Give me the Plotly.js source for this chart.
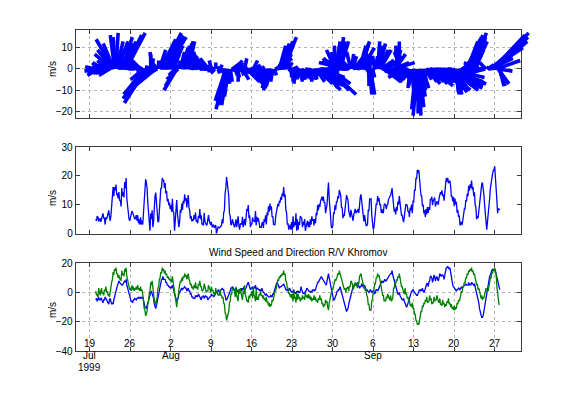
<!DOCTYPE html>
<html><head><meta charset="utf-8">
<script src="https://cdn.plot.ly/plotly-3.0.1.min.js"></script>
<style>html,body{margin:0;padding:0;background:#fff}#chart{width:576px;height:395px}</style>
</head><body><div id="chart"></div>
<script>
// ---- data (3-hourly samples starting 1999-07-20 00:00 UTC, one group per day) ----
const startTime = Date.UTC(1999, 6, 20, 0, 0);
const stepHours = 3;
// east component u (m/s), blue
const uEast = [
  -5,-4,-6,-5,-3,-5,-5,-4,  -4,-6,-7,-5,-5,-3,-4,-5,  -6,-6,-8,-5,-4,-6,-8,-7,
  -8,-5,-2,-1,1,3,5,7,  8,7,6,5,5,5,6,6,  8,7,9,5,3,1,-1,-4,
  -5,-6,-6,-7,-5,-5,-4,-5,  -5,-4,-4,-3,-4,-3,-4,-3,  -4,-3,-6,-7,-10,-10,-11,-9,
  -7,-4,-3,0,0,1,-1,-1,  -4,-8,-11,-11,-9,-6,-3,0,  3,6,7,9,9,11,9,9,
  9,7,7,5,5,4,4,3,  4,3,5,3,2,-1,-3,-5,  -6,-5,-4,-1,0,2,2,3,
  2,3,3,4,3,3,1,2,  3,1,1,-1,-1,-3,-3,-4,  -4,-4,-2,-3,-2,-3,-1,-2,
  -3,-3,-5,-3,-3,-2,-4,-3,  -2,-3,-3,-5,-4,-4,-3,-3,  -1,-2,-2,-3,-2,-2,0,0,
  1,1,2,0,1,2,2,3,  2,2,-1,-2,-5,-5,-4,-3,  -2,0,1,3,3,4,3,3,
  2,1,3,1,1,0,2,1,  1,3,1,3,2,4,1,2,  4,6,6,7,5,5,2,3,
  3,4,2,4,3,5,2,3,  3,2,2,1,2,1,3,1,  0,-1,-1,-2,-1,-2,-2,-3,
  -3,-3,-2,-3,-3,-1,-1,1,  3,6,6,7,5,5,3,4,  4,4,5,5,6,4,4,2,
  2,1,2,1,3,1,1,0,  1,0,2,0,0,-1,1,0,  1,0,0,1,4,2,1,-1,
  0,-1,1,1,3,2,2,1,  1,0,1,0,2,1,2,1,  2,4,4,7,7,9,9,10,
  11,10,9,8,7,6,5,5,  8,10,13,10,7,4,2,0,  -2,-5,-5,-4,-2,-1,1,1,
  2,2,4,2,1,0,-2,-4,  -6,-9,-11,-13,-12,-11,-8,-6,  -4,-2,1,2,4,4,6,5,
  5,5,7,5,4,3,4,4,  6,5,4,3,5,3,2,2,  1,1,0,1,2,1,0,1,
  1,1,-1,1,2,2,1,2,  3,4,5,6,8,7,7,8,  9,8,8,9,10,11,12,12,
  13,13,15,12,10,7,5,3,  2,0,-1,-1,0,-2,-3,-5,  -5,-5,-4,-6,-8,-10,-10,-9,
  -7,-5,-3,-1,-1,1,1,2,  1,0,0,-2,-2,-2,0,1,  2,1,2,1,3,1,0,1,
  3,6,6,6,4,7,8,11,  11,10,7,9,12,11,8,10,  11,9,8,10,13,12,11,12,
  12,11,9,12,15,17,17,18,  17,16,17,13,10,7,5,4,  3,2,2,1,2,2,3,2,
  2,3,4,3,4,4,5,5,  6,5,5,5,7,5,6,5,  7,6,6,5,6,4,2,0,
  -1,-5,-7,-11,-13,-16,-17,-17,  -16,-13,-10,-5,-3,1,3,6,  8,11,12,15,15,16,15,16,
  16,15,13,11,7,5,3,2
];
// north component v (m/s), green
const vNorth = [
  1,-2,-1,-3,3,0,-2,1,  3,-1,0,-2,2,1,4,0,  1,-2,-1,-3,2,2,7,9,
  14,12,16,15,17,13,13,10,  12,9,10,8,15,12,13,11,  16,14,17,11,9,5,5,2,
  3,1,5,2,4,1,3,2,  4,2,5,2,3,1,4,1,  2,-1,-5,-11,-12,-16,-14,-13,
  -8,-6,-1,1,7,5,8,2,  1,-5,-7,-9,-5,-3,3,4,  9,10,14,13,17,15,16,13,
  15,12,13,10,11,9,10,8,  9,7,11,7,7,0,-3,-8,  -10,-5,-3,2,4,8,7,10,
  8,11,10,13,11,12,9,12,  13,9,8,5,6,3,4,2,  5,3,7,3,4,2,6,5,
  8,4,4,1,2,2,6,3,  3,0,1,1,5,2,2,0,  4,1,2,-1,0,-2,3,0,
  1,-2,-1,-2,2,-2,-2,-4,  -3,-7,-8,-14,-15,-19,-17,-17,  -13,-7,-6,-1,-1,3,2,2,
  1,-3,4,-2,-4,-6,2,-1,  3,-2,-3,-5,1,-1,5,-2,  -3,-6,-5,-7,-2,-4,-1,-2,
  1,-4,4,-2,-3,-6,2,-5,  -3,-5,-1,-2,1,-2,-2,-4,  -2,-5,-4,-6,-3,-7,-6,-9,
  -7,-10,-8,-9,-5,-6,-3,-3,  1,1,5,5,9,8,11,10,  12,11,13,12,15,12,13,8,
  7,3,3,-1,0,-3,-1,-4,  -1,-6,1,-4,-3,-7,0,-5,  -1,-4,-3,-6,-4,-5,-2,-4,
  -3,-5,0,-3,-2,-4,-1,-4,  -2,-5,-3,-6,-4,-5,-2,-5,  -3,-6,-5,-7,-4,-5,-2,-5,
  -4,-8,-7,-10,-8,-9,-5,-7,  -6,-10,-12,-7,-5,-1,-1,2,  2,5,5,9,8,11,11,13,
  12,15,13,13,9,9,5,5,  2,3,0,3,3,4,1,4,  4,8,7,6,2,5,5,7,
  5,6,3,7,6,11,12,13,  10,6,6,3,4,1,2,-2,  -3,-8,-8,-12,-12,-12,-6,-4,
  1,2,6,6,10,10,13,11,  12,9,9,4,3,-2,-2,-6,  -5,-6,-3,-4,-1,-4,-4,-5,
  -2,-6,-5,-4,3,3,7,6,  9,8,11,10,13,9,8,4,  4,0,0,-1,3,-1,-1,-4,
  -3,-6,-5,-9,-8,-10,-7,-11,  -11,-15,-15,-19,-19,-22,-21,-22,  -18,-17,-13,-13,-9,-10,-7,-8,
  -5,-6,-3,-7,-6,-6,-2,-5,  -4,-8,-7,-7,-3,-6,-5,-5,  -2,-6,-6,-7,-4,-8,-8,-9,
  -5,-8,-7,-10,-8,-9,-6,-7,  -4,-8,-7,-10,-8,-11,-10,-12,  -9,-12,-10,-11,-7,-8,-5,-6,
  -2,-2,1,0,4,4,7,7,  10,10,13,12,15,14,16,15,  17,14,15,12,13,9,9,5,
  6,2,3,-1,-1,-4,-2,-5,  -3,-4,-1,-1,3,1,2,1,  5,5,10,10,14,13,16,15,
  17,13,13,4,-1,-7,-8,-8
];
const tickDates = ['1999-07-19','1999-07-26','1999-08-02','1999-08-09','1999-08-16','1999-08-23',
                   '1999-08-30','1999-09-06','1999-09-13','1999-09-20','1999-09-27'];
const tickDay   = ['19','26','2','9','16','23','30','6','13','20','27'];
const tickMonth = ['Jul','','Aug','','','','','Sep','','',''];
const tickYear  = ['1999','','','','','','','','','',''];
const yTicks1 = [-20,-10,0,10];
const yTicks2 = [0,10,20,30];
const yTicks3 = [-40,-20,0,20];
const yLabel = 'm/s';
const titleText = 'Wind Speed and Direction R/V Khromov';

// ---- layout geometry ----
const W = 576, H = 395;
const xL = 75.7, xR = 521, xStickR = 570;
const p1 = [30, 117.7], p2 = [147, 233.7], p3 = [263.3, 351];
const dom = p => [1 - p[1]/H, 1 - p[0]/H];
const xStart = Date.UTC(1999, 6, 16, 12, 43);
const xEnd   = Date.UTC(1999, 9, 1, 13, 12);
const y1Range = [-22.95, 18.36];

const times = uEast.map((_, i) => startTime + i*stepHours*3600000);
const speed = uEast.map((u, i) => Math.sqrt(u*u + vNorth[i]*vNorth[i]));

// stick plot with true aspect: 1 m/s horizontally == 1 m/s vertically on screen
const pxPerMs = (xR - xL) / (xEnd - xStart);
const pxPerUnit = (p1[1] - p1[0]) / (y1Range[1] - y1Range[0]);
const msPerUnit = pxPerUnit / pxPerMs;
const sx = [], sy = [];
times.forEach((t, i) => {
  sx.push(t, t + uEast[i]*msPerUnit, null);
  sy.push(0, vNorth[i], null);
});

const BLUE = '#0000ff', GREEN = '#008000';
const traces = [
  {x: [], y: [], xaxis: 'x', yaxis: 'y', mode: 'lines', hoverinfo: 'skip'},
  {x: sx, y: sy, xaxis: 'x4', yaxis: 'y4', mode: 'lines', line: {color: BLUE, width: 3.6, simplify: false}, hoverinfo: 'skip'},
  {x: times, y: speed, xaxis: 'x2', yaxis: 'y2', mode: 'lines', line: {color: BLUE, width: 1.3}},
  {x: times, y: uEast, xaxis: 'x3', yaxis: 'y3', mode: 'lines', line: {color: BLUE, width: 1.3}},
  {x: times, y: vNorth, xaxis: 'x3', yaxis: 'y3', mode: 'lines', line: {color: GREEN, width: 1.3}}
];

const font = {family: 'Liberation Sans, Arial, Helvetica, sans-serif', size: 10, color: '#000'};
const LINE = '#3a3a3a', GRID = '#b4b4b4';
function xa(anchor, grid) {
  return {domain: [xL/W, xR/W], anchor, type: 'date', range: [xStart, xEnd],
    tickvals: tickDates, showticklabels: false, ticks: 'inside', ticklen: 4, tickcolor: LINE,
    showline: true, linecolor: LINE, linewidth: 1, mirror: 'ticks',
    showgrid: grid, gridcolor: GRID, griddash: 'dot', gridwidth: 1, zeroline: false, fixedrange: true};
}
function ya(anchor, p, range, tv, grid) {
  return {domain: dom(p), anchor, range, tickvals: tv, ticks: 'inside', ticklen: 4, tickcolor: LINE,
    showline: true, linecolor: LINE, linewidth: 1, mirror: 'ticks', tickfont: font,
    showgrid: grid, gridcolor: GRID, griddash: 'dot', gridwidth: 1, zeroline: false, fixedrange: true};
}

const annotations = [];
tickDates.forEach((d, i) => {
  [[tickDay[i], 343.5], [tickMonth[i], 355], [tickYear[i], 367]].forEach(([txt, ypx]) => {
    if (txt) annotations.push({x: d, xref: 'x3', y: 1 - ypx/H, yref: 'paper', text: txt,
      showarrow: false, font, xanchor: 'center', yanchor: 'middle'});
  });
});
[69, 198, 310].forEach(ypx => {
  annotations.push({x: 52/W, xref: 'paper', y: 1 - ypx/H, yref: 'paper', text: yLabel, textangle: -90,
    showarrow: false, font, xanchor: 'center', yanchor: 'middle'});
});
annotations.push({x: (xL + xR)/2/W, xref: 'paper', y: 1 - 252.7/H, yref: 'paper', text: titleText,
  showarrow: false, font, xanchor: 'center', yanchor: 'middle'});

const layout = {
  width: W, height: H, autosize: false, margin: {l: 0, r: 0, t: 0, b: 0},
  paper_bgcolor: '#fff', plot_bgcolor: 'rgba(0,0,0,0)', showlegend: false, font,
  xaxis: xa('y', true), yaxis: ya('x', p1, y1Range, yTicks1, true),
  xaxis2: xa('y2', false), yaxis2: ya('x2', p2, [0, 30], yTicks2, false),
  xaxis3: xa('y3', true), yaxis3: ya('x3', p3, [-40, 20], yTicks3, true),
  xaxis4: {domain: [xL/W, xStickR/W], anchor: 'y4', type: 'date', visible: false, fixedrange: true,
    range: [xStart, xStart + (xEnd - xStart)*(xStickR - xL)/(xR - xL)]},
  yaxis4: {domain: dom(p1), anchor: 'x4', range: y1Range, visible: false, fixedrange: true},
  annotations
};
Plotly.newPlot('chart', traces, layout, {staticPlot: true, displayModeBar: false});
</script></body></html>
